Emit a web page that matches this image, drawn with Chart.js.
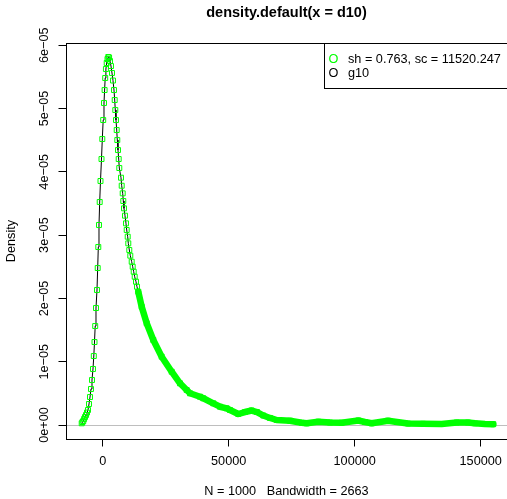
<!DOCTYPE html>
<html><head><meta charset="utf-8">
<script src="https://cdn.jsdelivr.net/npm/chart.js@4/dist/chart.umd.min.js"></script>
<style>html,body{margin:0;padding:0;background:#fff;}#wrap{width:507px;height:499px;position:relative;}</style>
</head><body><div id="wrap"><canvas id="c" width="507" height="499"></canvas></div>
<script>
// ---- data ----
const densityX = [-8333,-8015,-7698,-7380,-7023,-6626,-6230,-5833,-5436,-5039,-4642,-4246,-3849,-3532,-3254,-2976,-2659,-2262,-1984,-1746,-1468,-1190,-873,-476,-159,198,516,754,992,1270,1587,1905,2222,2540,2897,3293,3690,4087,4484,4762,5000,5277,5555,5793,6071,6349,6587,7261,7539,7936,8174,8452,8848,9245,9523,9920,10158,10555,10952,11507,11904,12301,12698,13214,13610,14126,
  15475,17459,20078,23411,27379,30673,33331,34641,38609,39918,43886,46545,49203,50513,53806,56465,59123,61226,63726,66384,69043,74320,78963,80947,85550,90193,94835,101422,104080,106739,113207,116778,121142,127095,134515,140467,144951,147728,151696,154990];
const densityY = [0.027e-5,0.047e-5,0.063e-5,0.095e-5,0.126e-5,0.158e-5,0.197e-5,0.237e-5,0.332e-5,0.442e-5,0.569e-5,0.711e-5,0.885e-5,1.090e-5,1.311e-5,1.564e-5,1.848e-5,2.133e-5,2.480e-5,2.812e-5,3.160e-5,3.523e-5,3.855e-5,4.202e-5,4.518e-5,4.818e-5,5.087e-5,5.292e-5,5.482e-5,5.624e-5,5.719e-5,5.782e-5,5.814e-5,5.806e-5,5.750e-5,5.671e-5,5.561e-5,5.442e-5,5.292e-5,5.134e-5,4.976e-5,4.818e-5,4.660e-5,4.502e-5,4.344e-5,4.202e-5,4.060e-5,3.907e-5,3.780e-5,3.660e-5,3.539e-5,3.423e-5,3.307e-5,3.186e-5,3.081e-5,2.975e-5,2.870e-5,2.765e-5,2.675e-5,2.580e-5,2.501e-5,2.422e-5,2.343e-5,2.264e-5,2.185e-5,2.106e-5,
  1.869e-5,1.607e-5,1.343e-5,1.079e-5,0.842e-5,0.659e-5,0.553e-5,0.501e-5,0.447e-5,0.422e-5,0.343e-5,0.289e-5,0.264e-5,0.237e-5,0.174e-5,0.205e-5,0.229e-5,0.205e-5,0.150e-5,0.111e-5,0.079e-5,0.068e-5,0.036e-5,0.027e-5,0.052e-5,0.039e-5,0.036e-5,0.071e-5,0.047e-5,0.027e-5,0.068e-5,0.047e-5,0.024e-5,0.019e-5,0.016e-5,0.039e-5,0.039e-5,0.027e-5,0.016e-5,0.013e-5];
const xTickValues = [0, 50000, 100000, 150000];
const xTickLabels = ['0', '50000', '100000', '150000'];
const yTickValues = [0, 1e-5, 2e-5, 3e-5, 4e-5, 5e-5, 6e-5];
const yTickLabels = ['0e+00', '1e\u221205', '2e\u221205', '3e\u221205', '4e\u221205', '5e\u221205', '6e\u221205'];
const seriesLabels = ['sh = 0.763, sc = 11520.247', 'g10'];
const titleText = 'density.default(x = d10)';
const xTitleText = 'N = 1000   Bandwidth = 2663';
const yTitleText = 'Density';

// ---- view settings ----
const X_MIN = -14563, X_MAX = 160437;
const Y_MIN = -0.221e-5, Y_MAX = 6.035e-5;
const BAND_FROM = 13800;
const FONT = "'Liberation Sans', Arial, Helvetica, sans-serif";
const GREEN = '#00ff00';

const points = densityX.map((x, i) => ({x: x, y: densityY[i]}));

const decor = {
  id: 'decor',
  beforeDatasetsDraw(chart) {
    const {ctx, chartArea: a, scales: {y}} = chart;
    const yz = Math.round(y.getPixelForValue(0)) + 0.5;
    ctx.save();
    ctx.strokeStyle = '#bebebe';
    ctx.lineWidth = 1;
    ctx.beginPath(); ctx.moveTo(a.left, yz); ctx.lineTo(a.right, yz); ctx.stroke();
    ctx.restore();
  },
  afterDraw(chart) {
    const {ctx, chartArea: a} = chart;
    ctx.save();
    ctx.strokeStyle = '#000';
    ctx.lineWidth = 1;
    ctx.strokeRect(a.left + 0.5, a.top + 0.5, a.right - a.left, a.bottom - a.top);
    // legend
    const w = 183, h = 45;
    const lx = a.right - w, ly = a.top;
    ctx.fillStyle = '#fff';
    ctx.fillRect(lx + 0.5, ly + 0.5, w, h);
    ctx.strokeRect(lx + 0.5, ly + 0.5, w, h);
    ctx.font = '12.7px ' + FONT;
    ctx.textBaseline = 'middle';
    const cols = [GREEN, '#000'];
    seriesLabels.forEach((t, i) => {
      const yy = ly + 16 + i * 14.3;
      ctx.fillStyle = cols[i];
      ctx.textAlign = 'center';
      ctx.fillText('O', lx + 9.5, yy);
      ctx.fillStyle = '#000';
      ctx.textAlign = 'left';
      ctx.fillText(t, lx + 24, yy);
    });
    ctx.restore();
  }
};

new Chart(document.getElementById('c'), {
  type: 'scatter',
  data: {
    datasets: [
      {
        label: seriesLabels[0],
        data: points,
        showLine: true,
        borderColor: GREEN,
        borderWidth: 6.5,
        borderJoinStyle: 'round',
        borderCapStyle: 'round',
        segment: {
          borderColor: c => c.p0.parsed.x >= BAND_FROM ? GREEN : 'rgba(0,0,0,0)',
          borderWidth: c => c.p0.parsed.x >= BAND_FROM ? 6.5 : 1
        },
        pointStyle: 'rect',
        pointRadius: 3.5,
        pointBorderWidth: 1,
        pointBorderColor: GREEN,
        pointBackgroundColor: 'rgba(0,0,0,0)',
        tension: 0,
        clip: false,
        order: 0
      },
      {
        label: seriesLabels[1],
        data: points,
        showLine: true,
        borderColor: '#000',
        borderWidth: 1,
        pointRadius: 0,
        tension: 0,
        order: 1
      }
    ]
  },
  options: {
    responsive: false,
    animation: false,
    devicePixelRatio: 1,
    layout: {autoPadding: false, padding: {left: 0, right: 0, top: 0, bottom: 0}},
    plugins: {
      legend: {display: false},
      tooltip: {enabled: false},
      title: {
        display: true, text: titleText, color: '#000', fullSize: false,
        font: {family: FONT, size: 14.5, weight: 'bold', lineHeight: 1.2},
        padding: {top: 4, bottom: 21.6}
      }
    },
    scales: {
      x: {
        type: 'linear', min: X_MIN, max: X_MAX,
        afterBuildTicks: s => { s.ticks = xTickValues.map(v => ({value: v})); },
        afterFit: s => { s.height = 60; s.paddingLeft = 0; s.paddingRight = 0; },
        ticks: {
          color: '#000', font: {family: FONT, size: 12.7}, padding: 7,
          maxRotation: 0, minRotation: 0, autoSkip: false,
          callback: (v, i) => xTickLabels[i]
        },
        grid: {drawOnChartArea: false, drawTicks: true, tickLength: 7.5, color: '#000', lineWidth: 1},
        border: {display: false},
        title: {display: true, text: xTitleText, color: '#000', font: {family: FONT, size: 12.7, lineHeight: 1.2}, padding: {top: 0, bottom: 0}}
      },
      y: {
        type: 'linear', min: Y_MIN, max: Y_MAX,
        afterBuildTicks: s => { s.ticks = yTickValues.map(v => ({value: v})); },
        afterFit: s => { s.width = 66; s.paddingTop = 0; s.paddingBottom = 0; },
        ticks: {
          color: '#000', font: {family: FONT, size: 12.7}, padding: -4,
          minRotation: 90, maxRotation: 90, crossAlign: 'center', autoSkip: false,
          callback: (v, i) => yTickLabels[i]
        },
        grid: {drawOnChartArea: false, drawTicks: true, tickLength: 7.5, color: '#000', lineWidth: 1},
        border: {display: false},
        title: {display: true, text: yTitleText, color: '#000', font: {family: FONT, size: 12.7, lineHeight: 1.2}, padding: {top: 4, bottom: 0}}
      }
    }
  },
  plugins: [decor]
});
</script></body></html>
